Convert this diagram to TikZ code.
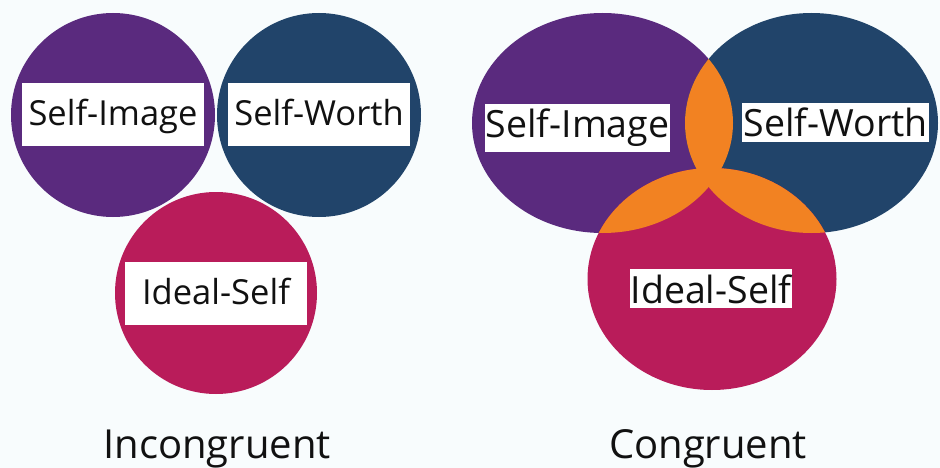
\documentclass[tikz,border=0pt]{standalone}
\usepackage{fontspec}
\setmainfont{Open Sans}
\definecolor{selfimg}{HTML}{5A2A7E}
\definecolor{selfworth}{HTML}{21446A}
\definecolor{idealself}{HTML}{B91C5A}
\definecolor{overlap}{HTML}{F28222}
\definecolor{paper}{HTML}{F8FCFD}
\definecolor{ink}{HTML}{111111}

\begin{document}
\begin{tikzpicture} [x=1pt, y=-1pt, text=ink,
  disc/.style={circle, inner sep=0pt, minimum size=#1},
  tag/.style={fill=white, inner sep=0pt, minimum width=182pt, minimum height=63pt, text height=28pt, text depth=6pt, font=\fontsize{34.5}{40}\selectfont},
  tighttag/.style={fill=white, anchor=base, inner xsep=1pt, inner ysep=5pt, font=\fontsize{37.5}{44}\selectfont},
  caption/.style={anchor=base, inner sep=0pt, font=\fontsize{40}{44}\selectfont}]

\useasboundingbox [fill=paper] (0,0) rectangle (940,468);

% incongruent: three circles just touching
\node at (113,115) [disc=204pt, fill=selfimg] (lsi) {};
\node at (319,115) [disc=204pt, fill=selfworth] (lsw) {};
\node at (216,293) [disc=202pt, fill=idealself] (lis) {};

\node at (lsi) [tag] (lsitag) {Self-Image};
\node at (lsw) [tag] (lswtag) {Self-Worth};
\node at (lis) [tag] (listag) {Ideal-Self};

\node at (217,458) [caption] (incong) {Incongruent};

% congruent: overlapping ellipses, overlaps in orange
\newcommand{\imgpath}{(602.5,123) ellipse [x radius=130.5pt, y radius=110pt]}
\newcommand{\worthpath}{(811.5,123) ellipse [x radius=126.5pt, y radius=110pt]}
\newcommand{\idealpath}{(712,279) ellipse [x radius=124.5pt, y radius=111pt]}

\fill [selfimg] \imgpath;
\fill [selfworth] \worthpath;
\fill [idealself] \idealpath;
\begin{scope}
  \clip \imgpath;
  \fill [overlap] \worthpath;
  \fill [overlap] \idealpath;
\end{scope}
\begin{scope}
  \clip \worthpath;
  \fill [overlap] \idealpath;
\end{scope}

\node at (577.5,138) [tighttag] (rsitag) {Self-Image};
\node at (835.5,137) [tighttag] (rswtag) {Self-Worth};
\node at (711,303) [tighttag] (ristag) {Ideal-Self};

\node at (708,458) [caption] (cong) {Congruent};

\end{tikzpicture}
\end{document}
